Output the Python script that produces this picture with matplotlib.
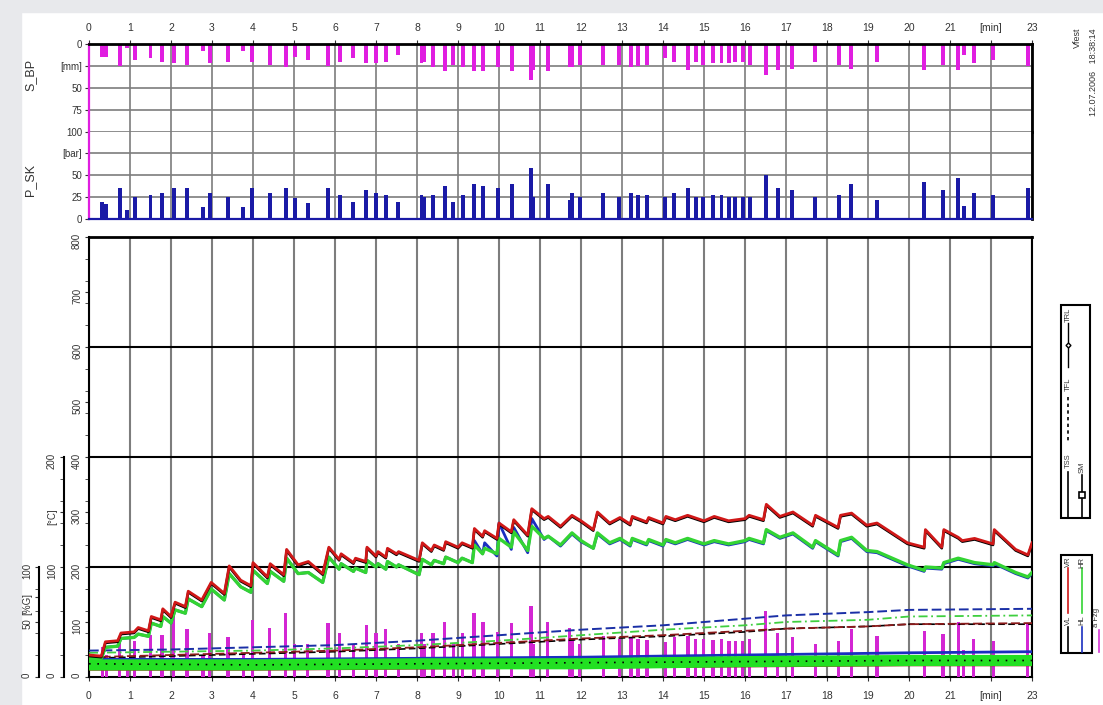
import matplotlib
matplotlib.use('Agg')
import matplotlib.pyplot as plt
from matplotlib.patches import Rectangle
from matplotlib.lines import Line2D
from matplotlib.ticker import MultipleLocator

plt.rcParams['font.family'] = ['Liberation Sans', 'DejaVu Sans']

# brake events [min] with pedal travel, line pressure and deceleration
BRAKE_T = [0.32, 0.42, 0.75, 0.93, 1.12, 1.50, 1.78, 2.07, 2.39, 2.78, 2.95, 3.39, 3.76, 3.98, 4.41, 4.80, 5.02, 5.34, 5.83, 6.12, 6.44, 6.76, 7.00, 7.24, 7.54,
           8.11, 8.17, 8.39, 8.68, 8.88, 9.12, 9.39, 9.61, 9.97, 10.31, 10.78, 10.83, 11.19, 11.73, 11.78, 11.97, 12.54, 12.93, 13.22, 13.39, 13.61, 14.05, 14.27, 14.61, 14.80, 14.98, 15.22,
           15.43, 15.61, 15.76, 15.95, 16.12, 16.51, 16.80, 17.15, 17.71, 18.29, 18.59, 19.22, 20.37, 20.83, 21.20, 21.34, 21.58, 22.05, 22.90]
P_SK = [20, 17, 35, 10, 25, 27, 30, 35, 35, 14, 30, 25, 14, 35, 30, 35, 24, 18, 35, 28, 19, 33, 30, 28, 20,
        28, 25, 28, 38, 20, 28, 40, 38, 35, 40, 58, 25, 40, 22, 30, 25, 30, 25, 30, 28, 28, 25, 30, 35, 25, 25, 28,
        28, 25, 25, 25, 25, 50, 35, 33, 25, 28, 40, 22, 42, 33, 47, 15, 30, 28, 35]
S_BP = [15, 15, 25, 5, 18, 16, 20, 22, 24, 8, 22, 20, 8, 20, 24, 26, 15, 18, 25, 20, 16, 22, 22, 20, 13,
        22, 20, 26, 31, 24, 26, 31, 31, 26, 31, 41, 30, 31, 26, 26, 24, 24, 24, 26, 25, 24, 16, 20, 30, 20, 24, 22,
        22, 22, 20, 20, 24, 35, 30, 28, 20, 24, 28, 20, 30, 24, 30, 12, 22, 18, 25]
A_FZG = [27, 20, 33, 15, 33, 38, 38, 58, 44, 20, 40, 36, 20, 52, 45, 58, 30, 30, 49, 40, 30, 47, 40, 44, 30,
         40, 30, 40, 50, 30, 40, 58, 50, 41, 49, 65, 30, 50, 45, 35, 30, 37, 35, 36, 35, 34, 32, 36, 37, 35, 35, 34,
         35, 33, 33, 33, 35, 60, 40, 36, 30, 33, 44, 37, 42, 39, 50, 25, 35, 33, 49]

# disc temperatures [°C]
TEMP_T = [0.0, 0.3, 0.4, 0.7, 0.78, 1.1, 1.2, 1.45, 1.52, 1.75,
          1.8, 2.0, 2.1, 2.35, 2.42, 2.75, 2.98, 3.3, 3.42, 3.7,
          3.95, 4.0, 4.35, 4.42, 4.75, 4.82, 5.1, 5.35, 5.7, 5.85,
          6.1, 6.15, 6.45, 6.5, 6.75, 6.78, 7.0, 7.05, 7.24, 7.28,
          7.5, 7.55, 8.05, 8.13, 8.35, 8.42, 8.65, 8.7, 9.0, 9.1,
          9.35, 9.4, 9.6, 9.65, 9.95, 10.0, 10.3, 10.36, 10.7, 10.8,
          11.1, 11.2, 11.5, 11.78, 12.0, 12.3, 12.4, 12.7, 12.95, 13.2,
          13.25, 13.6, 13.65, 14.0, 14.07, 14.3, 14.6, 15.0, 15.25, 15.6,
          16.0, 16.1, 16.45, 16.52, 16.85, 17.17, 17.65, 17.72, 18.27, 18.33,
          18.6, 18.97, 19.22, 19.96, 20.37, 20.4, 20.8, 20.85, 21.2, 21.3,
          21.6, 22.05, 22.08, 22.6, 22.9, 23.0]
VR = [20, 19, 32, 33, 40, 41, 45, 42, 55, 52,
      62, 55, 68, 64, 78, 70, 86, 76, 101, 88,
      83, 104, 91, 103, 93, 116, 102, 105, 94, 118,
      107, 112, 104, 108, 105, 118, 110, 114, 109, 117,
      112, 114, 106, 122, 115, 120, 116, 123, 118, 122,
      118, 135, 128, 133, 126, 140, 132, 143, 129, 153,
      144, 146, 137, 147, 142, 134, 150, 140, 145, 139,
      146, 141, 145, 140, 146, 143, 147, 142, 146, 142,
      144, 147, 143, 157, 146, 150, 138, 147, 136, 147,
      149, 138, 140, 122, 118, 134, 118, 134, 127, 124,
      126, 121, 134, 116, 111, 122]
VL = [19, 18, 31, 32, 39, 40, 44, 41, 54, 51,
      61, 54, 67, 63, 77, 69, 85, 75, 100, 87,
      82, 103, 90, 102, 92, 115, 101, 104, 93, 117,
      106, 111, 103, 107, 104, 117, 109, 113, 108, 116,
      111, 113, 105, 121, 114, 119, 115, 122, 117, 121,
      117, 134, 127, 132, 125, 139, 131, 142, 128, 152,
      143, 145, 136, 146, 141, 133, 149, 139, 144, 138,
      145, 140, 144, 139, 145, 142, 146, 141, 145, 141,
      143, 146, 142, 156, 145, 149, 137, 146, 135, 146,
      148, 137, 139, 121, 117, 133, 117, 133, 126, 123,
      125, 120, 133, 115, 110, 121]
HR = [17, 17, 27, 28, 35, 36, 39, 37, 49, 46,
      55, 49, 61, 58, 71, 64, 80, 70, 94, 82,
      77, 97, 85, 96, 87, 108, 94, 95, 86, 109,
      98, 103, 96, 99, 95, 106, 100, 103, 98, 105,
      100, 102, 93, 107, 102, 106, 103, 109, 104, 108,
      104, 120, 112, 117, 112, 126, 118, 132, 115, 137,
      126, 128, 120, 131, 124, 117, 131, 122, 126, 120,
      126, 121, 125, 120, 125, 122, 126, 121, 124, 121,
      124, 126, 122, 134, 127, 131, 118, 124, 111, 124,
      127, 115, 114, 102, 97, 100, 99, 104, 108, 107,
      104, 102, 104, 95, 91, 95]
HL = [17, 17, 27, 28, 35, 36, 39, 37, 49, 46,
      55, 49, 61, 58, 71, 64, 80, 70, 94, 82,
      77, 97, 85, 96, 87, 108, 94, 95, 86, 109,
      98, 103, 96, 99, 95, 106, 100, 103, 98, 105,
      100, 102, 93, 107, 102, 106, 103, 109, 104, 108,
      104, 124, 112, 122, 110, 140, 116, 136, 113, 144,
      125, 128, 119, 130, 123, 117, 130, 121, 125, 119,
      125, 120, 124, 119, 124, 121, 125, 120, 123, 120,
      123, 125, 121, 133, 126, 130, 117, 123, 110, 123,
      126, 114, 113, 101, 96, 99, 98, 103, 107, 106,
      103, 101, 103, 94, 90, 94]

# slow temperatures (dashed)
SLOW_T = [0, 2, 4, 6, 8, 10, 12, 14, 16, 17, 19, 20, 23]
DASH_BLUE = [24, 25, 27, 29, 33, 38, 43, 47, 53, 56, 59, 61, 62]
DASH_GREEN = [22, 23, 24, 26, 29, 33, 38, 43, 47, 50, 52, 55, 56]
DASH_BROWN = [18, 20, 22, 24, 27, 31, 35, 38, 42, 44, 46, 48, 49]
DASH_BLACK = [17, 19, 21, 23, 26, 30, 34, 37, 41, 44, 46, 48, 48]

# near-ambient temperatures
BASE_T = [0, 4, 8, 12, 16, 20, 23]
BAND_GREEN = [11, 11, 12, 12, 14, 15, 15]
BAND_DOTS = [12, 11, 12, 13, 14, 15, 15]
BASE_BLUE = [16, 16, 17, 18, 20, 22, 23]
BASE_RED = [7, 7, 8, 9, 10, 11, 11]
BASE_BLACK = [14, 14, 15, 16, 17, 18, 18]

MIN_LABELS = [str(i) for i in range(22)] + ['[min]', '23']

W, H = 1103, 705


def fx(x):
    return x / W


def fy(y):
    return 1 - y / H


def box(x0, y0, x1, y1):
    return [x0 / W, 1 - y1 / H, (x1 - x0) / W, (y1 - y0) / H]


fig = plt.figure(figsize=(11.03, 7.05), dpi=100)
fig.patch.set_facecolor('white')
fig.add_artist(Rectangle((0, fy(12)), 1, 12 / H, transform=fig.transFigure, color='#e8e9ec', zorder=0))
fig.add_artist(Rectangle((0, 0), 21 / W, 1, transform=fig.transFigure, color='#e8e9ec', zorder=0))

MAG = '#e01ee0'
NAVY = '#1a1aa6'
GRID = '#7d7d7d'
TXT = '#333333'

# ---------- top panel: S_BP (inverted) and P_SK ----------
ax_bp = fig.add_axes(box(89, 44, 1032, 131.5))
ax_sk = fig.add_axes(box(89, 131.5, 1032, 219))
for a in (ax_bp, ax_sk):
    a.set_xlim(0, 23)
    a.set_xticks(range(24))
    a.grid(True, color=GRID, lw=1.2)
    a.set_axisbelow(True)
    a.spines['left'].set_color(MAG)
    a.spines['left'].set_linewidth(1.6)
    a.spines['right'].set_linewidth(2)
    a.tick_params(axis='y', labelsize=7, colors=TXT, length=3, pad=2)

ax_bp.bar(BRAKE_T, S_BP, width=0.09, color=MAG)
ax_bp.set_ylim(100, 0)
ax_bp.set_yticks([0, 25, 50, 75, 100])
ax_bp.set_yticklabels(['0', '[mm]', '50', '75', '100'])
ax_bp.xaxis.tick_top()
ax_bp.set_xticklabels(MIN_LABELS)
ax_bp.tick_params(axis='x', labelsize=7.5, colors=TXT, length=3, pad=5)
ax_bp.spines['top'].set_linewidth(2)
ax_bp.spines['bottom'].set_color(GRID)

ax_sk.bar(BRAKE_T, P_SK, width=0.09, color=NAVY)
ax_sk.set_ylim(0, 100)
ax_sk.set_yticks([0, 25, 50, 75])
ax_sk.set_yticklabels(['0', '25', '50', '[bar]'])
ax_sk.tick_params(axis='x', length=0, labelbottom=False)
ax_sk.spines['top'].set_visible(False)
ax_sk.spines['bottom'].set_color(NAVY)
ax_sk.spines['bottom'].set_linewidth(1.6)

fig.text(fx(30), fy(75), 'S_BP', rotation=90, ha='center', va='center', fontsize=9, color=TXT)
fig.text(fx(30), fy(180), 'P_SK', rotation=90, ha='center', va='center', fontsize=9, color=TXT)

# ---------- bottom panel: temperatures ----------
ax = fig.add_axes(box(89, 237, 1032, 677))
ax.set_xlim(0, 23)
ax.set_ylim(0, 800)
ax.set_xticks(range(24))
ax.set_xticklabels(MIN_LABELS)
ax.tick_params(axis='x', labelsize=7.5, colors=TXT, length=3, pad=7)
ax.grid(axis='x', color=GRID, lw=1.5)
ax.set_axisbelow(True)
for yv in (200, 400, 600):
    ax.axhline(yv, color='black', lw=1.5, zorder=1)
ax.yaxis.set_major_locator(MultipleLocator(100))
ax.yaxis.set_minor_locator(MultipleLocator(40))
ax.tick_params(axis='y', which='both', labelsize=7, colors=TXT, length=3, pad=2, labelrotation=90)
for s in ax.spines.values():
    s.set_linewidth(1.5)
ax.spines['top'].set_linewidth(2)

ax_c = ax.twinx()
ax_g = ax.twinx()
for a, off, top, ticks, labels, minor in (
        (ax_c, 18, 200, [0, 100, 150, 200], ['0', '100', '[°C]', '200'], range(0, 201, 20)),
        (ax_g, 36, 100, [0, 50, 73, 100], ['0', '50', '[%G]', '100'], range(0, 101, 20))):
    a.set_ylim(0, 400)
    a.yaxis.set_ticks_position('left')
    a.spines['left'].set_visible(True)
    a.spines['left'].set_position(('outward', off))
    a.spines['left'].set_bounds(0, top)
    a.spines['left'].set_linewidth(1.5)
    for k in ('right', 'top', 'bottom'):
        a.spines[k].set_visible(False)
    a.set_yticks(ticks)
    a.set_yticklabels(labels)
    a.set_yticks(list(minor), minor=True)
    a.tick_params(axis='y', which='both', labelsize=7, colors=TXT, length=3, pad=2, labelrotation=90)

# deceleration spikes
ax_c.bar(BRAKE_T, A_FZG, width=0.075, color='#d326d3', zorder=2)

# slow dashed temperatures
ax_c.plot(SLOW_T, DASH_BLACK, color='black', lw=1.2, ls=(0, (4, 2)), zorder=3)
ax_c.plot(SLOW_T, DASH_BROWN, color='#8b1a1a', lw=1.3, ls=(0, (5, 2)), zorder=3)
ax_c.plot(SLOW_T, DASH_GREEN, color='#3fcf3f', lw=1.3, ls=(0, (5, 2, 1, 2)), zorder=3)
ax_c.plot(SLOW_T, DASH_BLUE, color='#1a2fa6', lw=1.4, ls=(0, (5, 2)), zorder=3)

# ambient band
ax_c.plot(BASE_T, BASE_RED, color='#a01818', lw=2, zorder=3)
ax_c.plot(BASE_T, BASE_BLACK, color='black', lw=1.2, zorder=3)
ax_c.plot(BASE_T, BASE_BLUE, color='#1a2fc0', lw=2, zorder=3)
ax_c.plot(BASE_T, BAND_GREEN, color='#22e022', lw=8, zorder=4, solid_capstyle='butt')
ax_c.plot(BASE_T, BAND_DOTS, color='black', lw=1.2, ls=(0, (1, 4)), zorder=5)

# disc temperatures
ax_c.plot(TEMP_T, HL, color='#1a2fc0', lw=2, zorder=6)
ax_c.plot(TEMP_T, HR, color='#33d433', lw=2.4, zorder=7)
ax_c.plot(TEMP_T, VL, color='black', lw=1.8, zorder=8)
ax_c.plot(TEMP_T, VR, color='#d01818', lw=2.0, zorder=9)

# ---------- right side: header and legends ----------
fig.text(fx(1077), fy(28), 'Vfest', rotation=90, ha='center', va='top', fontsize=6.5, color=TXT)
fig.text(fx(1093), fy(28), '12.07.2006   18:38:14', rotation=90, ha='center', va='top', fontsize=6.5, color=TXT)


def fig_line(x, y0, y1, **kw):
    fig.add_artist(Line2D([fx(x), fx(x)], [fy(y0), fy(y1)], transform=fig.transFigure, **kw))


def fig_label(x, y, s):
    fig.text(fx(x), fy(y), s, rotation=90, ha='center', va='center', fontsize=5.5, color=TXT)


fig.add_artist(Rectangle((fx(1061), fy(518)), 29 / W, 213 / H, transform=fig.transFigure,
                         fill=False, ec='black', lw=1.5))
fig_label(1068, 315, 'TRL')
fig_line(1068, 323, 367, color='black', lw=1)
fig.add_artist(Line2D([fx(1068)], [fy(345)], transform=fig.transFigure, marker='D', ms=2.5,
                      color='black', mfc='white'))
fig_label(1068, 384, 'TFL')
fig_line(1068, 397, 443, color='black', lw=1.2, ls=(0, (2, 2)))
fig_label(1068, 461, 'TSS')
fig_line(1068, 472, 517, color='black', lw=1.2)
fig_label(1082, 467, 'SM')
fig_line(1082, 475, 517, color='black', lw=1.2)
fig.add_artist(Line2D([fx(1082)], [fy(495)], transform=fig.transFigure, marker='s', ms=4,
                      color='black', mfc='white', mew=1.2))

fig.add_artist(Rectangle((fx(1061), fy(653)), 31 / W, 98 / H, transform=fig.transFigure,
                         fill=False, ec='black', lw=1.5))
fig_label(1068, 562, 'VR')
fig_line(1068, 568, 613, color='#d01818', lw=1.2)
fig_label(1068, 620, 'VL')
fig_line(1068, 627, 652, color='black', lw=1.2)
fig_label(1082, 562, 'HR')
fig_line(1082, 568, 613, color='#33d433', lw=1.2)
fig_label(1082, 620, 'HL')
fig_line(1082, 627, 652, color='#1a2fc0', lw=1.2)
fig_label(1097, 617, 'a Fzg')
fig_line(1099, 630, 652, color='#d535d5', lw=1.2)

fig.savefig('out.png', dpi=100, facecolor=fig.get_facecolor())
